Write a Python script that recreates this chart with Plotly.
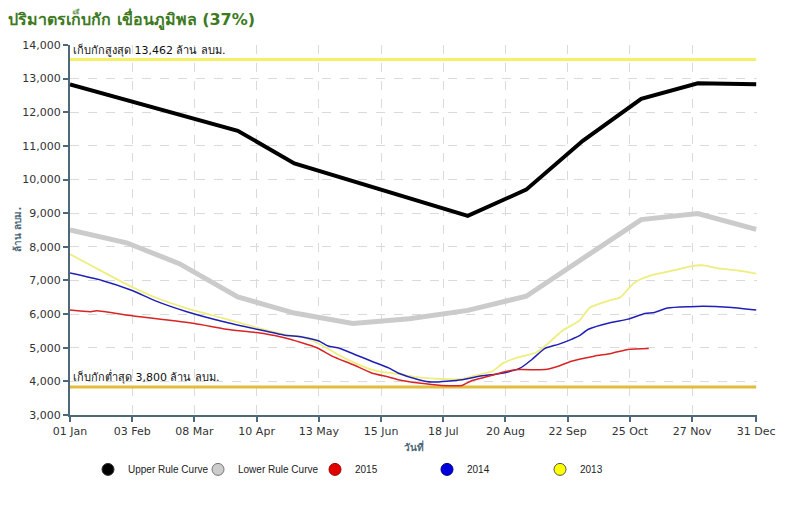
import plotly.graph_objects as go

# ---------------- data ----------------
upper_dates = ["2015-01-01", "2015-03-31", "2015-04-30", "2015-07-31", "2015-08-31",
               "2015-09-30", "2015-10-31", "2015-11-30", "2015-12-31"]
upper_vals = [12830, 11450, 10480, 8920, 9700, 11150, 12400, 12860, 12830]

lower_dates = ["2015-01-01", "2015-01-31", "2015-02-28", "2015-03-31", "2015-04-30",
               "2015-05-31", "2015-06-30", "2015-07-31", "2015-08-31", "2015-10-31",
               "2015-11-30", "2015-12-31"]
lower_vals = [8500, 8120, 7500, 6510, 6030, 5720, 5860, 6110, 6530, 8810, 8990, 8520]

y2015_dates = ["2015-01-01", "2015-01-12", "2015-01-15", "2015-02-03", "2015-03-08",
               "2015-03-25", "2015-04-10", "2015-04-23", "2015-05-04", "2015-05-12",
               "2015-05-20", "2015-05-31", "2015-06-10", "2015-06-19", "2015-06-24",
               "2015-07-05", "2015-07-17", "2015-07-28", "2015-08-02", "2015-08-11",
               "2015-08-19", "2015-08-27", "2015-09-10", "2015-09-17", "2015-09-24",
               "2015-10-06", "2015-10-15", "2015-10-24", "2015-11-04"]
y2015_vals = [6120, 6070, 6100, 5950, 5720, 5550, 5450, 5320, 5150, 5000,
              4750, 4500, 4250, 4130, 4050, 3950, 3880, 3880, 4020, 4150,
              4280, 4350, 4350, 4450, 4600, 4750, 4830, 4950, 4980]

y2014_dates = ["2015-01-01", "2015-01-18", "2015-02-03", "2015-02-15", "2015-03-04",
               "2015-03-23", "2015-04-10", "2015-04-25", "2015-05-04", "2015-05-13",
               "2015-05-18", "2015-05-23", "2015-06-01", "2015-06-10", "2015-06-19",
               "2015-06-24", "2015-07-05", "2015-07-12", "2015-07-28", "2015-08-06",
               "2015-08-19", "2015-08-28", "2015-09-03", "2015-09-10", "2015-09-17",
               "2015-09-24", "2015-09-28", "2015-10-03", "2015-10-15", "2015-10-24",
               "2015-11-02", "2015-11-07", "2015-11-14", "2015-11-26", "2015-12-03",
               "2015-12-16", "2015-12-31"]
y2014_vals = [7220, 7000, 6700, 6400, 6070, 5780, 5550, 5370, 5320, 5200,
              5050, 5000, 4800, 4600, 4400, 4250, 4050, 3980, 4050, 4150,
              4250, 4400, 4650, 4980, 5100, 5250, 5350, 5550, 5750, 5850,
              6020, 6050, 6180, 6220, 6230, 6200, 6120]

y2013_dates = ["2015-01-01", "2015-01-12", "2015-02-03", "2015-02-15", "2015-03-04",
               "2015-03-23", "2015-04-10", "2015-04-27", "2015-05-04", "2015-05-13",
               "2015-05-23", "2015-06-01", "2015-06-10", "2015-06-19", "2015-06-24",
               "2015-07-05", "2015-07-17", "2015-07-28", "2015-08-06", "2015-08-13",
               "2015-08-19", "2015-08-27", "2015-09-05", "2015-09-10", "2015-09-19",
               "2015-09-28", "2015-10-04", "2015-10-15", "2015-10-20", "2015-10-27",
               "2015-11-05", "2015-11-19", "2015-11-26", "2015-12-03", "2015-12-12",
               "2015-12-21", "2015-12-31"]
y2013_vals = [7780, 7450, 6800, 6500, 6170, 5880, 5600, 5370, 5320, 5120,
              4800, 4550, 4350, 4250, 4220, 4120, 4070, 4070, 4200, 4300,
              4550, 4720, 4850, 5050, 5500, 5800, 6200, 6420, 6500, 6920,
              7150, 7320, 7420, 7450, 7350, 7300, 7200]

limit_dates = ["2015-01-01", "2015-12-31"]
max_line = 13570
min_line = 3830
max_label = "เก็บกักสูงสุด 13,462 ล้าน ลบม."
min_label = "เก็บกักต่ำสุด 3,800 ล้าน ลบม."

tick_dates = ["2015-01-01", "2015-02-03", "2015-03-08", "2015-04-10", "2015-05-13",
              "2015-06-15", "2015-07-18", "2015-08-20", "2015-09-22", "2015-10-25",
              "2015-11-27", "2015-12-31"]
tick_text = ["01 Jan", "03 Feb", "08 Mar", "10 Apr", "13 May", "15 Jun",
             "18 Jul", "20 Aug", "22 Sep", "25 Oct", "27 Nov", "31 Dec"]
y_ticks = list(range(3000, 14001, 1000))

title_text = "ปริมาตรเก็บกัก เขื่อนภูมิพล (37%)"
y_title = "ล้าน ลบม."
x_title = "วันที่"

# ---------------- figure ----------------
AX = "#4f6878"
FONT = "DejaVu Sans"
GRID = "#dadada"
fig = go.Figure()

fig.add_trace(go.Scatter(x=limit_dates, y=[max_line, max_line], mode="lines",
                         line=dict(color="#f4f068", width=3), showlegend=False, hoverinfo="skip"))
fig.add_trace(go.Scatter(x=limit_dates, y=[min_line, min_line], mode="lines",
                         line=dict(color="#e2bc3c", width=3), showlegend=False, hoverinfo="skip"))

fig.add_trace(go.Scatter(x=lower_dates, y=lower_vals, mode="lines",
                         line=dict(color="#cbcbcb", width=5), showlegend=False, name="Lower Rule Curve"))
fig.add_trace(go.Scatter(x=upper_dates, y=upper_vals, mode="lines",
                         line=dict(color="#000000", width=4), showlegend=False, name="Upper Rule Curve"))
fig.add_trace(go.Scatter(x=y2013_dates, y=y2013_vals, mode="lines",
                         line=dict(color="#eeee80", width=1.8, shape="spline", smoothing=0.6),
                         showlegend=False, name="2013"))
fig.add_trace(go.Scatter(x=y2014_dates, y=y2014_vals, mode="lines",
                         line=dict(color="#2020b8", width=1.5, shape="spline", smoothing=0.6),
                         showlegend=False, name="2014"))
fig.add_trace(go.Scatter(x=y2015_dates, y=y2015_vals, mode="lines",
                         line=dict(color="#d82424", width=1.5, shape="spline", smoothing=0.6),
                         showlegend=False, name="2015"))

# legend entries (circle symbols)
legend_items = [("Upper Rule Curve", "#000000", "#333333", 65),
                ("Lower Rule Curve", "#cccccc", "#777777", 72),
                ("2015", "#e00000", "#a00000", 67),
                ("2014", "#0000dd", "#000088", 68),
                ("2013", "#ffff00", "#555555", 40)]
for name, fill, edge, w in legend_items:
    fig.add_trace(go.Scatter(x=[None], y=[None], mode="markers", name=name,
                             marker=dict(symbol="circle", size=12, color=fill,
                                         line=dict(color=edge, width=1)),
                             legendwidth=w, showlegend=True))

fig.add_annotation(x=limit_dates[0], y=max_line, xref="x", yref="y", text=max_label,
                   showarrow=False, xanchor="left", yanchor="bottom", xshift=1, yshift=0,
                   font=dict(family=FONT, size=11, color="#111111"))
fig.add_annotation(x=limit_dates[0], y=min_line, xref="x", yref="y", text=min_label,
                   showarrow=False, xanchor="left", yanchor="bottom", xshift=1, yshift=1,
                   font=dict(family=FONT, size=11, color="#111111"))
fig.add_annotation(x=(17 - 70) / 687, y=0.5, xref="paper", yref="paper",
                   text="<b>" + y_title + "</b>", textangle=-90, showarrow=False,
                   xanchor="center", yanchor="middle",
                   font=dict(family=FONT, size=10, color=AX))

fig.update_layout(
    width=800, height=519,
    margin=dict(l=70, r=43, t=45, b=104),
    paper_bgcolor="white", plot_bgcolor="white",
    font=dict(family=FONT, size=11, color="#333333"),
    title=dict(text="<b>" + title_text + "</b>", x=0.01, xanchor="left", y=0.962, yanchor="middle",
               font=dict(family=FONT, size=16, color="#3d7a22")),
    showlegend=True,
    legend=dict(orientation="h", x=(88 - 70) / 687, xanchor="left", y=-0.147, yanchor="middle",
                font=dict(family="Liberation Sans", size=10, color="#222222"),
                bgcolor="rgba(0,0,0,0)", itemclick=False),
    xaxis=dict(type="date", range=["2015-01-01", "2015-12-31 10:00"],
               tickvals=tick_dates, ticktext=tick_text, tickangle=0,
               showgrid=True, gridcolor=GRID, griddash="dash", gridwidth=1,
               showline=True, linecolor=AX, linewidth=2,
               ticks="outside", ticklen=5, tickcolor=AX, tickwidth=2,
               tickfont=dict(family=FONT, size=11, color="#333333"),
               title=dict(text="<b>" + x_title + "</b>", standoff=7,
                          font=dict(family=FONT, size=10, color=AX)),
               zeroline=False),
    yaxis=dict(range=[3000, 14000], tickvals=y_ticks, tickformat=",d",
               showgrid=True, gridcolor=GRID, griddash="dash", gridwidth=1,
               showline=True, linecolor=AX, linewidth=2,
               ticks="outside", ticklen=5, tickcolor=AX, tickwidth=2,
               tickfont=dict(family=FONT, size=11, color="#333333"),
               zeroline=False),
)

fig.write_html("out.html")
